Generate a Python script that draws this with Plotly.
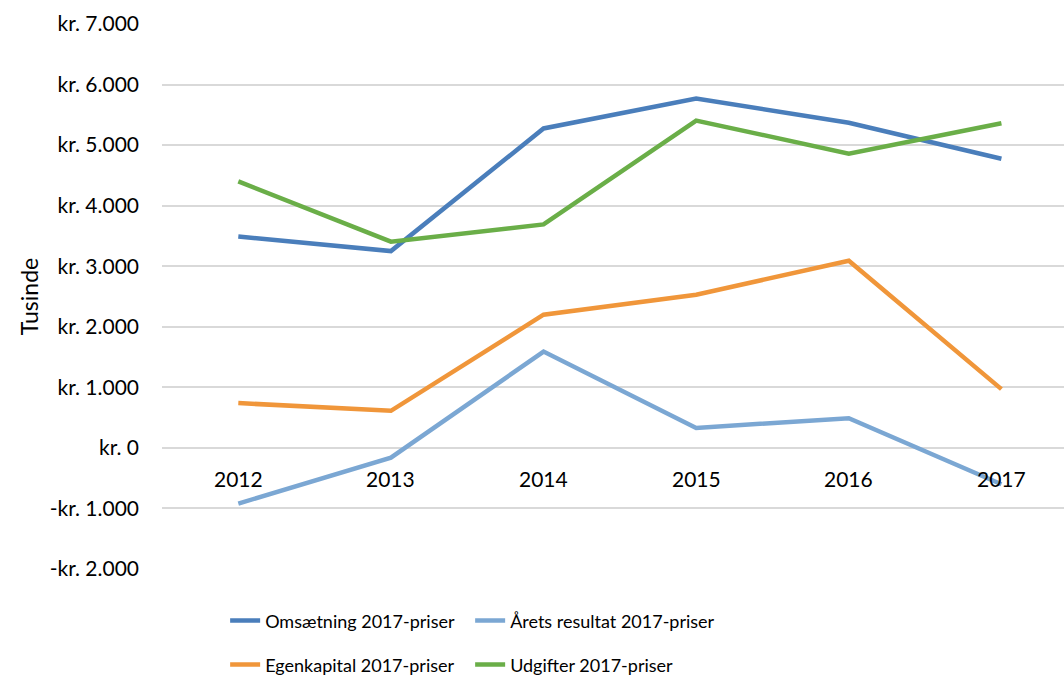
import plotly.graph_objects as go

years = ["2012", "2013", "2014", "2015", "2016", "2017"]
omsaetning = [3490, 3250, 5275, 5770, 5370, 4775]
aarets_resultat = [-920, -160, 1590, 330, 490, -600]
egenkapital = [740, 612, 2200, 2530, 3090, 970]
udgifter = [4400, 3405, 3690, 5405, 4860, 5360]

series_names = ["Omsætning 2017-priser", "Årets resultat 2017-priser",
                "Egenkapital 2017-priser", "Udgifter 2017-priser"]
series_values = [omsaetning, aarets_resultat, egenkapital, udgifter]
series_colors = ["#4A7EBB", "#7BA7D3", "#F0963A", "#6AAE48"]
series_legend = ["legend", "legend", "legend2", "legend2"]

y_tickvals = [-2000, -1000, 0, 1000, 2000, 3000, 4000, 5000, 6000, 7000]
y_ticktext = ["-kr. 2.000", "-kr. 1.000", "kr. 0", "kr. 1.000", "kr. 2.000",
              "kr. 3.000", "kr. 4.000", "kr. 5.000", "kr. 6.000", "kr. 7.000"]

FONT = "Lato"
fig = go.Figure()
xidx = list(range(len(years)))
for name, vals, col, lg in zip(series_names, series_values, series_colors, series_legend):
    fig.add_trace(go.Scatter(
        x=xidx, y=vals, mode="lines", name=name,
        line=dict(color=col, width=4.5), legend=lg, hoverinfo="skip"))

for i, yr in enumerate(years):
    fig.add_annotation(x=i, y=0, xref="x", yref="y", text=yr, showarrow=False,
                       yshift=-31, font=dict(family=FONT, size=21, color="#000000"))

fig.update_layout(
    width=1064, height=675,
    paper_bgcolor="white", plot_bgcolor="white",
    margin=dict(l=162, r=0, t=24, b=106, autoexpand=False),
    font=dict(family=FONT, size=18, color="#000000"),
    xaxis=dict(range=[-0.5, 5.41], showgrid=False, zeroline=False,
               showticklabels=False, showline=False, fixedrange=True),
    yaxis=dict(range=[-2000, 7000], tickvals=y_tickvals, ticktext=y_ticktext,
               showgrid=True, gridcolor="#D9D9D9", gridwidth=1.5,
               zeroline=False, showline=False, ticks="", ticklabelstandoff=22,
               tickfont=dict(family=FONT, size=21),
               title=dict(text="Tusinde", standoff=4, font=dict(family=FONT, size=23))),
    legend=dict(orientation="h", x=0.07, xanchor="left", y=-0.095, yanchor="middle",
                entrywidth=200, entrywidthmode="pixels",
                font=dict(family=FONT, size=18), bgcolor="rgba(0,0,0,0)"),
    legend2=dict(orientation="h", x=0.07, xanchor="left", y=-0.176, yanchor="middle",
                 entrywidth=200, entrywidthmode="pixels",
                 font=dict(family=FONT, size=18), bgcolor="rgba(0,0,0,0)"),
    showlegend=True,
)

fig.write_html("out.html", config={"displayModeBar": False},
               post_script="document.body.style.margin='0';document.body.style.overflow='hidden';")
